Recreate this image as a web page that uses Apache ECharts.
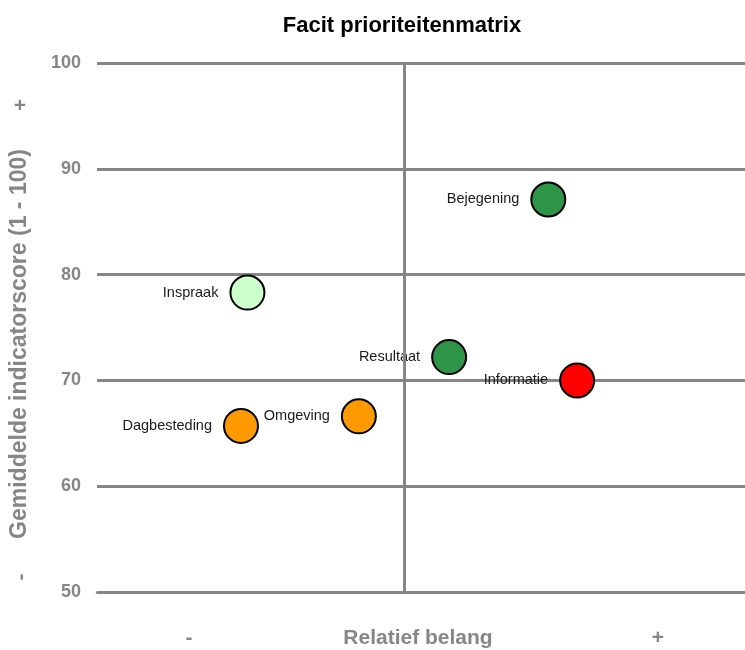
<!DOCTYPE html>
<html>
<head>
<meta charset="utf-8">
<script src="https://cdn.jsdelivr.net/npm/echarts@6/dist/echarts.min.js"></script>
<style>
  html, body { margin: 0; padding: 0; background: #fff; }
  #chart { width: 745px; height: 650px; }
</style>
</head>
<body>
<div id="chart"></div>
<script>
// Indicators in the priority matrix
const names = ['Bejegening', 'Inspraak', 'Resultaat', 'Informatie', 'Omgeving', 'Dagbesteding'];
// Relative importance (0 = dividing line between low and high)
const importance = [0.47, -0.51, 0.147, 0.564, -0.147, -0.531];
// Average indicator score (1 - 100)
const scores = [87.1, 78.3, 72.2, 70.0, 66.6, 65.7];
// Fill colour per indicator
const colors = ['#2e9447', '#ccffcc', '#2e9447', '#ff0000', '#ff9900', '#ff9900'];

const yTicks = [50, 60, 70, 80, 90, 100];

const gray = '#868686';
const font = 'Liberation Sans, Arial, sans-serif';

function centeredText(text, x, y, size, color, rot) {
  return {
    type: 'text', x: x, y: y, rotation: rot || 0,
    style: { text: text, font: 'bold ' + size + 'px ' + font, fill: color, align: 'center', verticalAlign: 'middle' }
  };
}

const chart = echarts.init(document.getElementById('chart'));
chart.setOption({
  animation: false,
  grid: { left: 97, right: 0, top: 63, bottom: 58, outerBoundsMode: 'none', containLabel: false },
  xAxis: {
    type: 'value', min: -1, max: 1.1107,
    axisLine: { show: true, onZero: false, lineStyle: { color: gray, width: 2.5 } },
    axisTick: { show: false }, axisLabel: { show: false }, splitLine: { show: false }
  },
  yAxis: {
    type: 'value', min: yTicks[0], max: yTicks[yTicks.length - 1], interval: 10,
    axisLine: { show: true, lineStyle: { color: gray, width: 2.5 } },
    axisTick: { show: false },
    axisLabel: { margin: 16, fontFamily: font, fontSize: 18, fontWeight: 'bold', color: gray },
    splitLine: { show: true, lineStyle: { color: gray, width: 3 } }
  },
  graphic: [
    centeredText('Facit prioriteitenmatrix', 402, 26, 22, '#000'),
    centeredText('Relatief belang', 418, 638, 21, gray),
    centeredText('-', 189, 638, 21, gray),
    centeredText('+', 658, 638, 21, gray),
    centeredText('Gemiddelde indicatorscore (1 - 100)', 20, 344, 23, gray, Math.PI / 2),
    centeredText('+', 20, 106, 21, gray),
    centeredText('-', 21, 577, 21, gray, Math.PI / 2)
  ],
  series: [{
    type: 'scatter',
    symbolSize: 34,
    data: names.map((n, i) => ({
      name: n,
      value: [importance[i], scores[i]],
      itemStyle: { color: colors[i] }
    })),
    itemStyle: { borderColor: '#000', borderWidth: 2, opacity: 1 },
    label: {
      show: true, position: 'left', distance: 11,
      formatter: p => p.name,
      fontFamily: font, fontSize: 14.5, color: '#1a1a1a'
    },
    markLine: {
      silent: true, symbol: 'none', label: { show: false },
      lineStyle: { color: gray, width: 3, type: 'solid' },
      data: [{ xAxis: 0 }]
    }
  }]
});
</script>
</body>
</html>
